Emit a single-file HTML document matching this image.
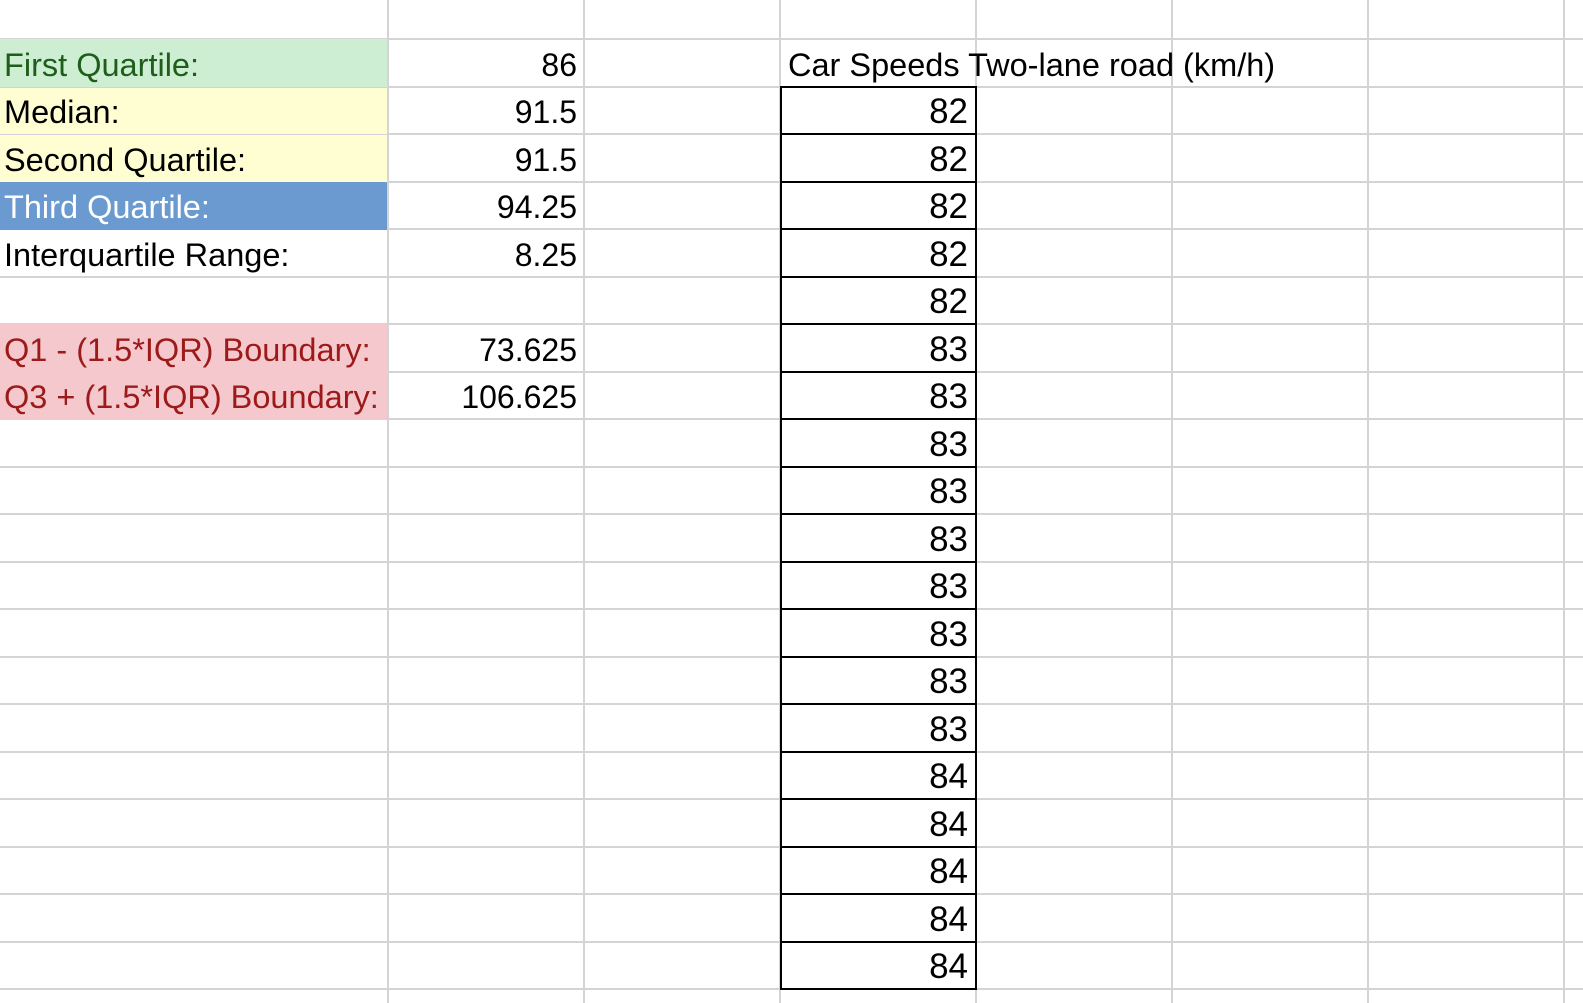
<!DOCTYPE html>
<html><head><meta charset="utf-8">
<style>
body{margin:0;width:1583px;height:1003px;overflow:hidden;background:#fff;font-family:"Liberation Sans",sans-serif;position:relative}
.c{position:absolute;box-sizing:border-box;white-space:nowrap;display:flex;align-items:center;padding-top:4px}
.l{justify-content:flex-start;padding-left:4px;font-size:32.5px}
.r{justify-content:flex-end;padding-right:7px;font-size:32px}
.d{justify-content:flex-end;padding-right:7px;font-size:35px;border:2px solid #000}
.vl{position:absolute;top:0;height:1003px;width:2px;background:#d4d4d4}
.hl{position:absolute;left:0;width:1583px;height:2px;background:#d4d4d4}
</style></head>
<body>
<div id="grid"></div>
<div id="cells"></div>
<script>
const colEdges=[0,388,584,780,976,1172,1368,1564,1583];
const rowTop=i=>i===0?0:39+(i-1)*47.5;
const statLabels=["First Quartile:","Median:","Second Quartile:","Third Quartile:","Interquartile Range:","","Q1 - (1.5*IQR) Boundary:","Q3 + (1.5*IQR) Boundary:"];
const statValues=["86","91.5","91.5","94.25","8.25","","73.625","106.625"];
const statBg=["#cdeed2","#fefed2","#fefed2","#6a9ad0","","","#f5c8cd","#f5c8cd"];
const statColor=["#1e5e1a","#000","#000","#fff","#000","","#9c1a1a","#9c1a1a"];
const speeds=[82,82,82,82,82,83,83,83,83,83,83,83,83,83,84,84,84,84,84];
const grid=document.getElementById('grid');
const cells=document.getElementById('cells');
for(let k=1;k<colEdges.length-1;k++){
 const v=document.createElement('div');v.className='vl';v.style.left=(colEdges[k]-1)+'px';
 
 
 grid.appendChild(v);
}
for(let i=1;i<=21;i++){
 const h=document.createElement('div');h.className='hl';h.style.top=(rowTop(i)-1)+'px';
 
 
 grid.appendChild(h);
}
statLabels.forEach((t,i)=>{
 const top=rowTop(i+1);
 const a=document.createElement('div');a.className='c l';
 const keepLine=(i===1||i===2);
 a.style.cssText+=`left:0;top:${keepLine?top+1:top}px;width:387px;height:${keepLine?46.5:48}px;color:${statColor[i]};`+(statBg[i]?`background:${statBg[i]};`:'');
 a.textContent=t;
 
 
 cells.appendChild(a);
 const b=document.createElement('div');b.className='c r';
 b.style.cssText+=`left:388px;top:${top}px;width:196px;height:48px;`;
 b.textContent=statValues[i];
 
 
 cells.appendChild(b);
});
const hd=document.createElement('div');hd.className='c l';
hd.style.cssText+=`left:784px;top:${rowTop(1)}px;height:48px;`;
hd.textContent='Car Speeds Two-lane road (km/h)';


cells.appendChild(hd);
speeds.forEach((s,i)=>{
 const d=document.createElement('div');d.className='c d';
 d.style.cssText+=`left:780px;top:${rowTop(i+2)-1}px;width:197px;height:49.5px;`;
 d.textContent=s;
 
 
 cells.appendChild(d);
});
</script>
</body></html>
